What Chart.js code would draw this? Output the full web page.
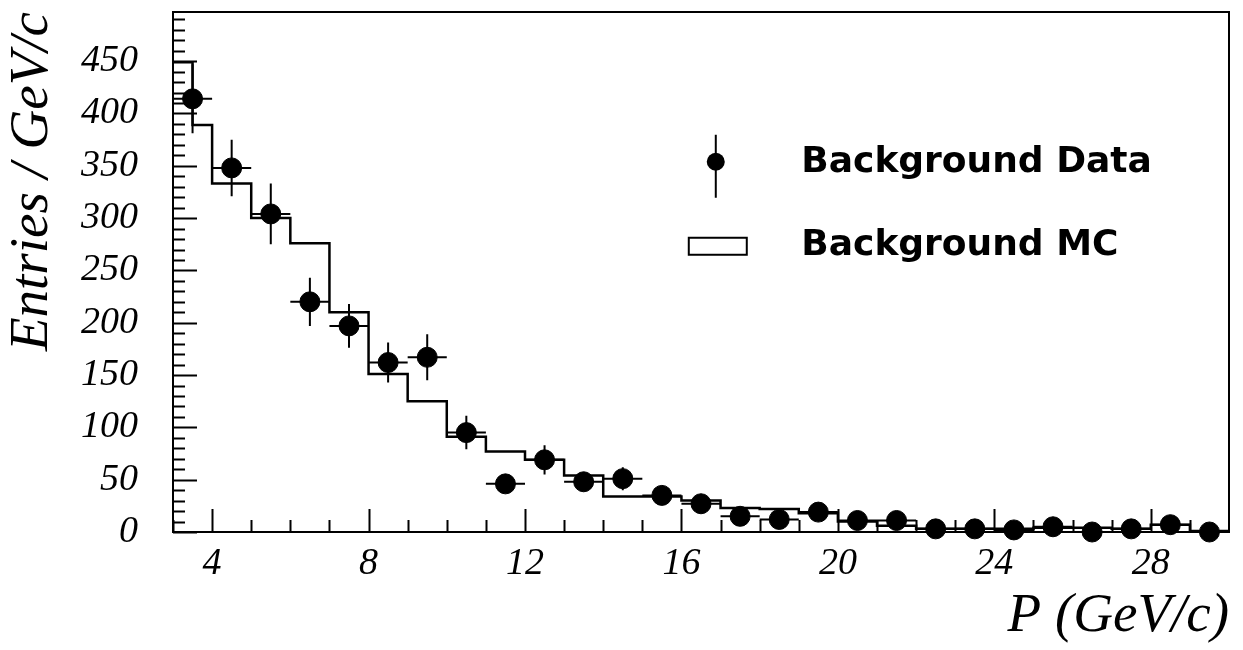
<!DOCTYPE html>
<html>
<head>
<meta charset="utf-8">
<title>Background momentum spectrum</title>
<script src="https://cdn.jsdelivr.net/npm/chart.js@4.4.1/dist/chart.umd.min.js"></script>
<style>
  html, body { margin: 0; padding: 0; background: #fff; }
  #wrap { width: 1243px; height: 650px; }
</style>
</head>
<body>
<div id="wrap"><canvas id="chart" width="1243" height="650"></canvas></div>
<script>
// Background data: bin centres (GeV/c), entries per GeV/c and their errors
var binCenters = [3.5, 4.5, 5.5, 6.5, 7.5, 8.5, 9.5, 10.5, 11.5, 12.5, 13.5, 14.5, 15.5, 16.5,
  17.5, 18.5, 19.5, 20.5, 21.5, 22.5, 23.5, 24.5, 25.5, 26.5, 27.5, 28.5, 29.5];
var dataCounts = [414, 348, 304, 220, 197, 162, 167, 95, 46, 69, 48, 51, 35, 27,
  15, 12, 19, 11, 11, 3, 3, 2, 5, 0, 3, 7, 0];
var dataErrors = [33, 27, 29, 23, 21, 19, 22, 16, 9, 14, 9, 11, 8, 7,
  6, 5, 6, 5, 5, 3, 3, 3, 3, 2, 3, 4, 2];
var binHalfWidth = 0.5;

// Background MC histogram: low edge of each step and its height
var mcLowEdges = [3, 3.5, 4, 5, 6, 7, 8, 9, 10, 11, 12, 13, 14, 15, 16,
  17, 18, 19, 20, 21, 22, 23, 24, 25, 26, 27, 28, 29];
var mcCounts = [449, 389, 333, 300, 276, 210, 151, 125, 91, 77, 69, 54, 34, 34, 30,
  23, 22, 18, 10, 6, 3, 3, 3, 4, 4, 3, 7, 1];
var mcHighEdge = 30;

var xMin = 3, xMax = 30, yMin = 0, yMax = 497;
var legendLabels = ['Background Data', 'Background MC'];

(function () {
  'use strict';

  var serif = "'Liberation Serif', 'Times New Roman', serif";
  var sans = "'DejaVu Sans', sans-serif";

  var dataPoints = binCenters.map(function (x, i) { return { x: x, y: dataCounts[i] }; });
  var mcPoints = mcLowEdges.map(function (x, i) { return { x: x, y: mcCounts[i] }; });
  mcPoints.push({ x: mcHighEdge, y: mcCounts[mcCounts.length - 1] });

  // error crosses under the markers
  var errorBars = {
    id: 'errorBars',
    beforeDatasetsDraw: function (chart) {
      var ds = chart.data.datasets[0];
      var xs = chart.scales.x, ys = chart.scales.y;
      var ctx = chart.ctx;
      ctx.save();
      ctx.strokeStyle = '#000';
      ctx.lineWidth = 2;
      ds.data.forEach(function (p, i) {
        var e = ds.errors[i];
        var px = xs.getPixelForValue(p.x), py = ys.getPixelForValue(p.y);
        ctx.beginPath();
        ctx.moveTo(xs.getPixelForValue(p.x - binHalfWidth), py);
        ctx.lineTo(xs.getPixelForValue(p.x + binHalfWidth), py);
        ctx.moveTo(px, ys.getPixelForValue(Math.max(p.y - e, 0)));
        ctx.lineTo(px, ys.getPixelForValue(p.y + e));
        ctx.stroke();
      });
      ctx.restore();
    }
  };

  // box frame with inward ticks, PAW style
  var frame = {
    id: 'frame',
    afterDraw: function (chart) {
      var a = chart.chartArea;
      var xs = chart.scales.x, ys = chart.scales.y;
      var ctx = chart.ctx;
      ctx.save();
      ctx.strokeStyle = '#000';
      ctx.lineWidth = 2;
      ctx.strokeRect(a.left, a.top, a.right - a.left, a.bottom - a.top);
      ctx.beginPath();
      var v, p, len;
      for (v = yMin; v <= yMax; v += 10) {
        p = Math.round(ys.getPixelForValue(v)) + 0.5;
        len = v % 50 === 0 ? 24 : 12;
        ctx.moveTo(a.left, p);
        ctx.lineTo(a.left + len, p);
      }
      for (v = Math.ceil(xMin); v < xMax; v += 1) {
        p = Math.round(xs.getPixelForValue(v)) + 0.5;
        len = v % 4 === 0 ? 23 : 12;
        ctx.moveTo(p, a.bottom);
        ctx.lineTo(p, a.bottom - len);
      }
      ctx.stroke();
      ctx.restore();
    }
  };

  var legendBox = {
    id: 'legendBox',
    afterDraw: function (chart) {
      var ctx = chart.ctx;
      var a = chart.chartArea;
      var w = a.right - a.left, h = a.bottom - a.top;
      var mx = a.left + w * 0.514, my = a.top + h * 0.288;
      var tx = a.left + w * 0.595;
      ctx.save();
      ctx.strokeStyle = '#000';
      ctx.fillStyle = '#000';
      ctx.lineWidth = 2;
      ctx.beginPath();
      ctx.moveTo(mx, my - 27);
      ctx.lineTo(mx, my + 36);
      ctx.stroke();
      ctx.beginPath();
      ctx.arc(mx, my, 9, 0, Math.PI * 2);
      ctx.fill();
      ctx.fillStyle = '#fff';
      ctx.fillRect(mx - 27, my + 76, 58, 17);
      ctx.strokeRect(mx - 27, my + 76, 58, 17);
      ctx.fillStyle = '#000';
      ctx.font = 'bold 36px ' + sans;
      ctx.textBaseline = 'alphabetic';
      ctx.fillText(legendLabels[0], tx, my + 10);
      ctx.fillText(legendLabels[1], tx, my + 93);
      ctx.restore();
    }
  };

  var tickFont = { family: serif, style: 'italic', size: 38 };
  var titleFont = { family: serif, style: 'italic', size: 55 };

  new Chart(document.getElementById('chart').getContext('2d'), {
    type: 'scatter',
    data: {
      datasets: [{
        label: legendLabels[0],
        data: dataPoints,
        errors: dataErrors,
        pointRadius: 10,
        pointHoverRadius: 10,
        pointBackgroundColor: '#000',
        pointBorderColor: '#000',
        pointBorderWidth: 1,
        showLine: false,
        clip: false,
        order: 0
      }, {
        label: legendLabels[1],
        data: mcPoints,
        showLine: true,
        stepped: true,
        borderColor: '#000',
        borderWidth: 2.5,
        pointRadius: 0,
        fill: false,
        order: 1
      }]
    },
    options: {
      responsive: false,
      animation: false,
      events: [],
      layout: { padding: { top: 12, right: 14, left: 0, bottom: 0 } },
      plugins: {
        legend: { display: false },
        tooltip: { enabled: false }
      },
      scales: {
        x: {
          type: 'linear',
          min: xMin,
          max: xMax,
          grid: { display: false },
          border: { display: false },
          ticks: {
            stepSize: 4,
            includeBounds: false,
            autoSkip: false,
            maxRotation: 0,
            padding: 1,
            color: '#000',
            font: tickFont
          },
          title: {
            display: true,
            text: 'P (GeV/c)',
            align: 'end',
            color: '#000',
            font: titleFont,
            padding: 0
          },
          afterFit: function (s) { s.height = 118; }
        },
        y: {
          type: 'linear',
          min: yMin,
          max: yMax,
          grid: { display: false },
          border: { display: false },
          ticks: {
            stepSize: 50,
            includeBounds: false,
            padding: 27,
            color: '#000',
            font: tickFont
          },
          title: {
            display: true,
            text: 'Entries / GeV/c',
            align: 'end',
            color: '#000',
            font: titleFont,
            padding: 0
          },
          afterFit: function (s) {
            s.width = 173;
            s.paddingTop = 0;
            s.paddingBottom = 0;
          }
        }
      }
    },
    plugins: [errorBars, frame, legendBox]
  });
})();
</script>
</body>
</html>
